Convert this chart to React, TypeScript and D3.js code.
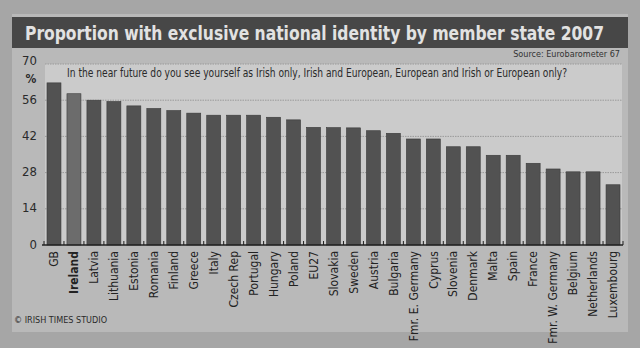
import React from "react";
import * as d3 from "d3";

const countries = ["GB","Ireland","Latvia","Lithuania","Estonia","Romania","Finland","Greece","Italy","Czech Rep","Portugal","Hungary","Poland","EU27","Slovakia","Sweden","Austria","Bulgaria","Fmr. E. Germany","Cyprus","Slovenia","Denmark","Malta","Spain","France","Fmr. W. Germany","Belgium","Netherlands","Luxembourg"];
const values = [62.7,58.5,56,55.5,53.8,52.8,52,51,50.2,50.2,50.2,49.4,48.4,45.5,45.4,45.3,44.2,43.2,41,41,38,38,34.7,34.7,31.6,29.4,28.3,28.3,23.3];
const yTicks = [0,14,28,42,56,70];
const title = "Proportion with exclusive national identity by member state 2007";
const question = "In the near future do you see yourself as Irish only, Irish and European, European and Irish or European only?";
const source = "Source: Eurobarometer 67";
const credit = "© IRISH TIMES STUDIO";

const W = 640, H = 348;
const FONT = "'DejaVu Sans Condensed', 'Liberation Sans Narrow', Roboto, sans-serif";

export default function App() {
  const x = d3.scaleBand<string>().domain(countries).range([44, 623]).paddingInner(0.3).paddingOuter(0.15);
  const y = d3.scaleLinear().domain([0, 70]).range([245, 64]);
  const step = x.step();
  const gap = step * 0.15;
  const tickXs = [(x(countries[0]) as number) - gap, ...countries.map(c => (x(c) as number) + x.bandwidth() + gap)];
  const ts = 1.12;
  return (
    <svg width={W} height={H} style={{ position: "absolute", left: 0, top: 0 }} fontFamily={FONT}>
      <rect x={0} y={0} width={W} height={H} fill="#a6a6a6" />
      <rect x={12} y={14} width={616} height={318} fill="#b9b9b9" />
      <rect x={12} y={17} width={616} height={31} fill="#474747" />
      <g transform={`scale(1,${ts})`}>
        <text x={25} y={40 / ts} fontSize={17} fontWeight="bold" fill="#e2e2e2" textLength={579} lengthAdjust="spacingAndGlyphs">{title}</text>
      </g>
      <text x={620} y={57} fontSize={9} fill="#333" textAnchor="end">{source}</text>
      <rect x={45} y={y(70)} width={577} height={y(0) - y(70)} fill="#cbcbcb" />
      {yTicks.map(t => (
        <g key={t}>
          {t > 0 && <line x1={45} x2={622} y1={y(t)} y2={y(t)} stroke="#9a9a9a" strokeWidth={1} strokeDasharray="1.5,1" />}
          <text x={37} y={t === 70 ? 61.5 : y(t)} fontSize={13} fill="#2a2a2a" textAnchor="end" dominantBaseline="middle">{t}</text>
        </g>
      ))}
      <text x={31} y={83} fontSize={12} fontWeight="bold" fill="#2a2a2a" textAnchor="middle">%</text>
      <text x={67} y={77} fontSize={11.5} fill="#2a2a2a" textLength={500} lengthAdjust="spacingAndGlyphs">{question}</text>
      {countries.map((c, i) => (
        <rect key={c} x={x(c)} y={y(values[i])} width={x.bandwidth()} height={y(0) - y(values[i])}
          fill={c === "Ireland" ? "#6c6c6c" : "#525252"} stroke="#3a3a3a" strokeWidth={0.6} />
      ))}
      <line x1={42} x2={623} y1={y(0)} y2={y(0)} stroke="#222" strokeWidth={1.5} />
      {tickXs.map((xx, i) => (
        <line key={i} x1={xx} x2={xx} y1={y(0)} y2={y(0) - 4} stroke="#222" strokeWidth={1} />
      ))}
      {countries.map(c => (
        <text key={c} transform={`translate(${(x(c) as number) + x.bandwidth() / 2},251) rotate(-90)`}
          fontSize={12} fill="#222" textAnchor="end" dy="0.35em" fontWeight={c === "Ireland" ? "bold" : "normal"}>{c}</text>
      ))}
      <text x={14} y={323} fontSize={9} fill="#2a2a2a">{credit}</text>
    </svg>
  );
}
